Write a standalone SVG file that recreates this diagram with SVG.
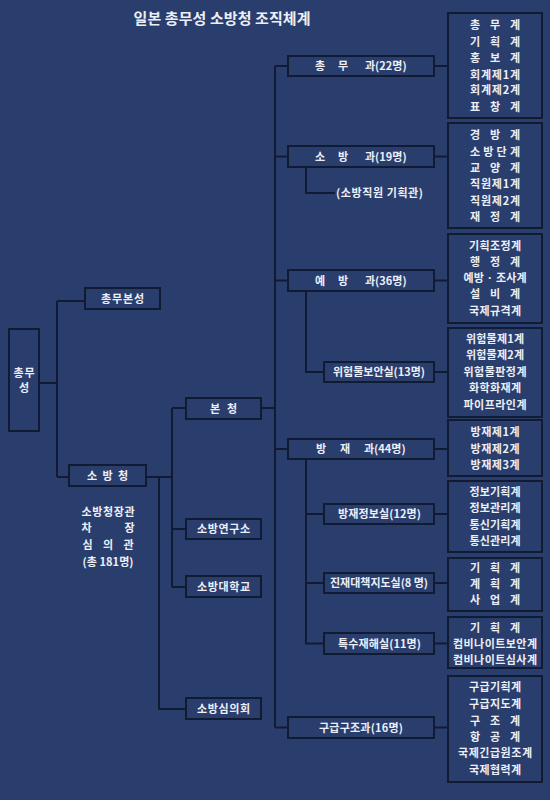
<svg xmlns="http://www.w3.org/2000/svg" width="550" height="800" viewBox="0 0 550 800" xml:space="preserve">
<style>
  .bg { fill: #2a3e6e; }
  .box { fill: #2a3e6e; stroke: #121b34; stroke-width: 2; }
  .ln { fill: none; stroke: #121b34; stroke-width: 2; }
  text { font-family: "Noto Sans CJK KR", "Noto Sans", sans-serif; font-size: 11px; font-weight: bold; fill: #eceff6; text-anchor: middle; }
  .title { font-size: 15px; }
  .start { text-anchor: start; }
</style>
<rect class="bg" x="0" y="0" width="550" height="800"/>
<text class="title" x="222" y="24" textLength="177" lengthAdjust="spacing">일본 총무성 소방청 조직체계</text>

<g id="connectors">
  <path class="ln" d="M39 383 H57 M57 301 V477 M57 301 H85 M57 477 H69"/>
  <path class="ln" d="M146 477 H172 M172 408 V587 M172 408 H186 M172 529 H186 M172 587 H186"/>
  <path class="ln" d="M159 477 V709 H186"/>
  <path class="ln" d="M261 408 H275 M275 66 V727.5 M275 66 H288 M275 156.5 H288 M275 280.5 H288 M275 449 H288 M275 727.5 H288"/>
  <path class="ln" d="M434 66 H448 M434 156.5 H448 M434 280.5 H448 M434 449 H448 M434 727.5 H448"/>
  <path class="ln" d="M434 372 H448 M434 514 H448 M434 583 H448 M434 643.5 H448"/>
  <path class="ln" d="M306 167 V193 H335"/>
  <path class="ln" d="M306 291 V372 H324"/>
  <path class="ln" d="M306 459 V643.5 H324 M306 514 H324 M306 583 H324"/>
</g>

<g id="n-somusung">
  <rect class="box" x="9" y="329" width="30" height="102"/>
  <text x="24" y="377" textLength="21" lengthAdjust="spacing">총무</text>
  <text x="24" y="392">성</text>
</g>
<g id="n-somubonsung">
  <rect class="box" x="85" y="288" width="75" height="21"/>
  <text x="122.5" y="302.5" textLength="43" lengthAdjust="spacing">총무본성</text>
</g>
<g id="n-sobangchung">
  <rect class="box" x="69" y="465" width="77" height="21"/>
  <text x="107.5" y="479.5" textLength="41" lengthAdjust="spacing">소 방 청</text>
</g>
<g id="n-chief">
  <text x="108" y="516" textLength="53" lengthAdjust="spacing">소방청장관</text>
  <text x="108" y="532" textLength="53" lengthAdjust="spacing">차      장</text>
  <text x="108" y="549" textLength="51" lengthAdjust="spacing">심 의 관</text>
  <text x="108" y="566" textLength="51" lengthAdjust="spacing">(총 181명)</text>
</g>
<g id="n-bonchung">
  <rect class="box" x="186" y="398" width="75" height="21"/>
  <text x="223.5" y="412.5" textLength="27" lengthAdjust="spacing">본 청</text>
</g>
<g id="n-yeongu">
  <rect class="box" x="186" y="519" width="75" height="20"/>
  <text x="223.5" y="533" textLength="53" lengthAdjust="spacing">소방연구소</text>
</g>
<g id="n-daehak">
  <rect class="box" x="186" y="576" width="75" height="21"/>
  <text x="223.5" y="590.5" textLength="53" lengthAdjust="spacing">소방대학교</text>
</g>
<g id="n-simui">
  <rect class="box" x="186" y="698" width="75" height="21"/>
  <text x="223.5" y="712.5" textLength="53" lengthAdjust="spacing">소방심의회</text>
</g>

<g id="n-somugwa">
  <rect class="box" x="288" y="56" width="146" height="20"/>
  <text class="start" y="70"><tspan x="315">총</tspan><tspan x="338">무</tspan><tspan x="365">과(22명)</tspan></text>
</g>
<g id="n-sobanggwa">
  <rect class="box" x="288" y="146" width="146" height="21"/>
  <text class="start" y="160.5"><tspan x="315">소</tspan><tspan x="338">방</tspan><tspan x="365">과(19명)</tspan></text>
</g>
<g id="n-gihoekgwan">
  <text class="start" x="336" y="197" textLength="87" lengthAdjust="spacing">(소방직원 기획관)</text>
</g>
<g id="n-yebanggwa">
  <rect class="box" x="288" y="270" width="146" height="21"/>
  <text class="start" y="284.5"><tspan x="315">예</tspan><tspan x="338">방</tspan><tspan x="365">과(36명)</tspan></text>
</g>
<g id="n-wiheom">
  <rect class="box" x="324" y="362" width="110" height="20"/>
  <text x="379" y="376" textLength="92" lengthAdjust="spacing">위험물보안실(13명)</text>
</g>
<g id="n-bangjaegwa">
  <rect class="box" x="288" y="439" width="146" height="20"/>
  <text class="start" y="453"><tspan x="316">방</tspan><tspan x="340">재</tspan><tspan x="364">과(44명)</tspan></text>
</g>
<g id="n-jeongbo">
  <rect class="box" x="324" y="504" width="110" height="20"/>
  <text x="379.5" y="518" textLength="83" lengthAdjust="spacing">방재정보실(12명)</text>
</g>
<g id="n-jinjae">
  <rect class="box" x="324" y="573" width="110" height="20"/>
  <text x="379" y="587" textLength="98" lengthAdjust="spacing">진재대책지도실(8 명)</text>
</g>
<g id="n-teuksu">
  <rect class="box" x="324" y="633" width="110" height="21"/>
  <text x="379.5" y="647.5" textLength="83" lengthAdjust="spacing">특수재해실(11명)</text>
</g>
<g id="n-gugeup">
  <rect class="box" x="288" y="717" width="146" height="21"/>
  <text x="361" y="731.5" textLength="84" lengthAdjust="spacing">구급구조과(16명)</text>
</g>

<g id="s-somu">
  <rect class="box" x="448" y="13" width="94" height="105"/>
  <text x="495" y="29" textLength="50" lengthAdjust="spacing">총 무 계</text>
  <text x="495" y="46" textLength="50" lengthAdjust="spacing">기 획 계</text>
  <text x="495" y="62" textLength="50" lengthAdjust="spacing">홍 보 계</text>
  <text x="495" y="79" textLength="50" lengthAdjust="spacing">회계제1계</text>
  <text x="495" y="94" textLength="50" lengthAdjust="spacing">회계제2계</text>
  <text x="495" y="111" textLength="50" lengthAdjust="spacing">표 창 계</text>
</g>
<g id="s-sobang">
  <rect class="box" x="448" y="123" width="94" height="105"/>
  <text x="495" y="139" textLength="50" lengthAdjust="spacing">경 방 계</text>
  <text x="495" y="156" textLength="50" lengthAdjust="spacing">소방단계</text>
  <text x="495" y="172" textLength="50" lengthAdjust="spacing">교 양 계</text>
  <text x="495" y="188" textLength="50" lengthAdjust="spacing">직원제1계</text>
  <text x="495" y="205" textLength="50" lengthAdjust="spacing">직원제2계</text>
  <text x="495" y="221" textLength="50" lengthAdjust="spacing">재 정 계</text>
</g>
<g id="s-yebang">
  <rect class="box" x="448" y="234" width="94" height="89"/>
  <text x="495" y="250" textLength="52" lengthAdjust="spacing">기획조정계</text>
  <text x="495" y="266" textLength="50" lengthAdjust="spacing">행 정 계</text>
  <text x="495" y="282" textLength="63" lengthAdjust="spacing">예방 · 조사계</text>
  <text x="495" y="298" textLength="50" lengthAdjust="spacing">설 비 계</text>
  <text x="495" y="315" textLength="52" lengthAdjust="spacing">국제규격계</text>
</g>
<g id="s-wiheom">
  <rect class="box" x="448" y="328" width="94" height="89"/>
  <text x="495" y="343" textLength="58" lengthAdjust="spacing">위험물제1계</text>
  <text x="495" y="359" textLength="58" lengthAdjust="spacing">위험물제2계</text>
  <text x="495" y="376" textLength="63" lengthAdjust="spacing">위험물판정계</text>
  <text x="495" y="392" textLength="52" lengthAdjust="spacing">화학화재계</text>
  <text x="495" y="409" textLength="63" lengthAdjust="spacing">파이프라인계</text>
</g>
<g id="s-bangjae">
  <rect class="box" x="448" y="420" width="94" height="56"/>
  <text x="495" y="436" textLength="49" lengthAdjust="spacing">방재제1계</text>
  <text x="495" y="453" textLength="49" lengthAdjust="spacing">방재제2계</text>
  <text x="495" y="469" textLength="49" lengthAdjust="spacing">방재제3계</text>
</g>
<g id="s-jeongbo">
  <rect class="box" x="448" y="481" width="94" height="71"/>
  <text x="495" y="496" textLength="51" lengthAdjust="spacing">정보기획계</text>
  <text x="495" y="512" textLength="51" lengthAdjust="spacing">정보관리계</text>
  <text x="495" y="529" textLength="51" lengthAdjust="spacing">통신기획계</text>
  <text x="495" y="545" textLength="51" lengthAdjust="spacing">통신관리계</text>
</g>
<g id="s-jinjae">
  <rect class="box" x="448" y="558" width="94" height="53"/>
  <text x="495" y="572" textLength="50" lengthAdjust="spacing">기 획 계</text>
  <text x="495" y="588" textLength="50" lengthAdjust="spacing">계 획 계</text>
  <text x="495" y="604" textLength="50" lengthAdjust="spacing">사 업 계</text>
</g>
<g id="s-teuksu">
  <rect class="box" x="448" y="617" width="94" height="51"/>
  <text x="495" y="632" textLength="50" lengthAdjust="spacing">기 획 계</text>
  <text x="495" y="648" textLength="84" lengthAdjust="spacing">컴비나이트보안계</text>
  <text x="495" y="664" textLength="84" lengthAdjust="spacing">컴비나이트심사계</text>
</g>
<g id="s-gugeup">
  <rect class="box" x="448" y="676" width="94" height="106"/>
  <text x="495" y="691" textLength="52" lengthAdjust="spacing">구급기획계</text>
  <text x="495" y="708" textLength="52" lengthAdjust="spacing">구급지도계</text>
  <text x="495" y="725" textLength="50" lengthAdjust="spacing">구 조 계</text>
  <text x="495" y="741" textLength="50" lengthAdjust="spacing">항 공 계</text>
  <text x="495" y="757" textLength="74" lengthAdjust="spacing">국제긴급원조계</text>
  <text x="495" y="774" textLength="52" lengthAdjust="spacing">국제협력계</text>
</g>
</svg>
